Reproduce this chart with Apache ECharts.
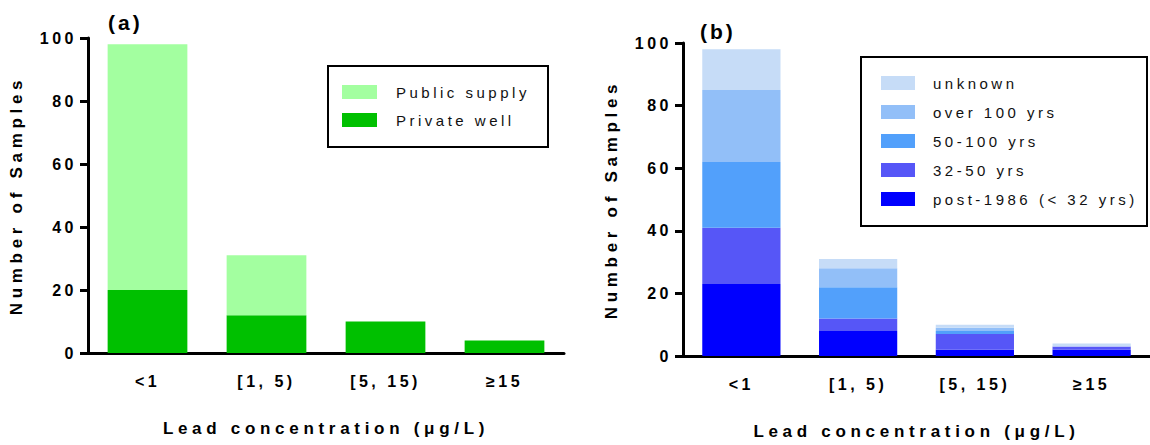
<!DOCTYPE html>
<html>
<head>
<meta charset="utf-8">
<title>Lead concentration</title>
<script src="https://cdn.jsdelivr.net/npm/echarts@6/dist/echarts.min.js"></script>
<style>
  html, body { margin: 0; padding: 0; background: #fff; }
  #main { width: 1150px; height: 445px; }
  /* zrender has no letterSpacing, so the svg text gets it from css */
  #main text[style*="15px"] { letter-spacing: 3.5px; }
  #main text[style*="16px"] { letter-spacing: 3.5px; }
  #main text[style*="17px"] { letter-spacing: 4.7px; }
  #main text[style*="21px"] { letter-spacing: 3px; }
</style>
</head>
<body>
<div id="main"></div>
<script>
var categories = ['<1', '[1, 5)', '[5, 15)', '≥15'];

// (a) by water source
var privateWell = [20, 12, 10, 4];
var publicSupply = [78, 19, 0, 0];

// (b) by building age
var post1986 = [23, 8, 2, 2];
var yrs32to50 = [18, 4, 5, 1];
var yrs50to100 = [21, 10, 1, 0];
var over100 = [23, 6, 1, 0];
var unknown = [13, 3, 1, 1];

var yMax = 100;
var yStep = 20;

var font = 'Liberation Sans, Arial, sans-serif';

function xAxisFor(gridIndex) {
	return {
		type: 'category',
		gridIndex: gridIndex,
		data: categories,
		name: 'Lead concentration (μg/L)',
		nameLocation: 'middle',
		nameGap: 67,
		nameTextStyle: { fontSize: 17, fontWeight: 'bold', color: '#000', fontFamily: font },
		axisLine: { lineStyle: { color: '#000', width: 3 } },
		axisTick: { alignWithLabel: true, length: 9, lineStyle: { color: '#000', width: 3 } },
		axisLabel: { interval: 0, margin: 20, fontSize: 16, fontWeight: 'bold', color: '#000', fontFamily: font }
	};
}

function yAxisFor(gridIndex) {
	return {
		type: 'value',
		gridIndex: gridIndex,
		min: 0,
		max: yMax,
		interval: yStep,
		name: 'Number of Samples',
		nameLocation: 'middle',
		nameGap: 63,
		nameTextStyle: { fontSize: 17, fontWeight: 'bold', color: '#000', fontFamily: font },
		axisLine: { show: true, lineStyle: { color: '#000', width: 3 } },
		axisTick: { show: true, length: 8, lineStyle: { color: '#000', width: 3 } },
		axisLabel: { margin: 11, fontSize: 16, fontWeight: 'bold', color: '#000', fontFamily: font },
		splitLine: { show: false }
	};
}

function barSeries(name, data, color, idx) {
	return {
		name: name,
		type: 'bar',
		stack: 'panel' + idx,
		xAxisIndex: idx,
		yAxisIndex: idx,
		barWidth: '67%',
		itemStyle: { color: color },
		data: data
	};
}

function legendFor(names, left, top, gap, itemWidth, textPad) {
	return {
		data: names,
		orient: 'vertical',
		left: left,
		top: top,
		padding: 0,
		itemGap: gap,
		itemWidth: itemWidth,
		itemHeight: 14,
		icon: 'rect',
		selectedMode: false,
		textStyle: { fontSize: 15, color: '#111', fontFamily: font, padding: [0, 0, 0, textPad] }
	};
}

var chart = echarts.init(document.getElementById('main'), null, { renderer: 'svg' });

chart.setOption({
	animation: false,
	title: [
		{ text: '(a)', left: 108, top: 12, padding: 0, textStyle: { fontSize: 21, fontWeight: 'bold', color: '#000', fontFamily: font } },
		{ text: '(b)', left: 700, top: 21, padding: 0, textStyle: { fontSize: 21, fontWeight: 'bold', color: '#000', fontFamily: font } }
	],
	grid: [
		{ left: 88, top: 38, width: 476, height: 315 },
		{ left: 683, top: 43, width: 473, height: 314 }
	],
	xAxis: [xAxisFor(0), xAxisFor(1)],
	yAxis: [yAxisFor(0), yAxisFor(1)],
	legend: [
		legendFor(['Public supply', 'Private well'], 342, 84.5, 13, 35, 14),
		legendFor(['unknown', 'over 100 yrs', '50-100 yrs', '32-50 yrs', 'post-1986 (< 32 yrs)'], 881, 75.5, 14, 34, 13)
	],
	// legend frames
	graphic: [
		{ type: 'rect', shape: { x: 328, y: 66, width: 220, height: 81 }, style: { fill: 'none', stroke: '#000', lineWidth: 2 } },
		{ type: 'rect', shape: { x: 861, y: 57, width: 286, height: 169 }, style: { fill: 'none', stroke: '#000', lineWidth: 2 } }
	],
	series: [
		barSeries('Private well', privateWell, '#00c000', 0),
		barSeries('Public supply', publicSupply, '#a3ffa0', 0),
		barSeries('post-1986 (< 32 yrs)', post1986, '#0000ff', 1),
		barSeries('32-50 yrs', yrs32to50, '#5656f7', 1),
		barSeries('50-100 yrs', yrs50to100, '#52a0fb', 1),
		barSeries('over 100 yrs', over100, '#92bff8', 1),
		barSeries('unknown', unknown, '#c6dcf7', 1)
	]
});
</script>
</body>
</html>
